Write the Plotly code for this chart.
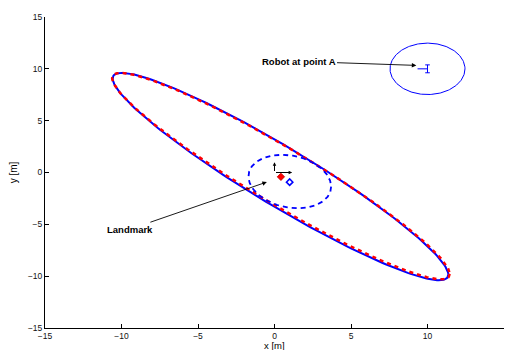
import numpy as np
import plotly.graph_objects as go

# ---- data ----
# ellipse parameters: centre x, centre y, half-extent x, half-extent y, phase (deg)
est_ellipse = [0.39, -0.39, 10.97, 10.0, 161.0]      # blue solid
true_ellipse = [0.42, -0.35, 11.03, 9.95, 161.5]     # red dashed
landmark_ellipse = [1.0, -0.87, 2.7, 2.58, 101.0]    # blue dashed
robot_ellipse = [10.0, 10.0, 2.45, 2.48, 90.0]       # blue thin

true_landmark = [0.42, -0.42]
est_landmark = [0.99, -0.93]

robot_x = [9.35, 10.0, None, 10.0, 10.0, None, 9.85, 10.15, None, 9.85, 10.15]
robot_y = [10.0, 10.0, None, 9.62, 10.38, None, 10.38, 10.38, None, 9.62, 9.62]

frame_origin = [0.0, 0.0]
frame_x_tip = [1.15, 0.0]
frame_y_tip = [0.0, 1.0]

tick_vals = [-15, -10, -5, 0, 5, 10, 15]

robot_label = "Robot at point A"
robot_label_pos = [1.57, 10.72]
robot_arrow_tip = [9.27, 10.33]
landmark_label = "Landmark"
landmark_label_pos = [-9.44, -5.47]
landmark_arrow_tip = [-0.5, -0.92]

x_title = "x [m]"
y_title = "y [m]"

BLUE = "#0000ff"
RED = "#ff0000"
FONT = "Liberation Sans, Arial, Helvetica, sans-serif"

W, H = 508, 350
M = dict(l=45, r=4, t=17, b=22)


def ellipse(p, n=240):
    cx, cy, a, b, ph = p
    t = np.linspace(0, 2 * np.pi, n)
    return cx + a * np.cos(t), cy + b * np.cos(t + np.radians(ph))


fig = go.Figure()

x, y = ellipse(est_ellipse)
fig.add_trace(go.Scatter(x=x, y=y, mode="lines", line=dict(color=BLUE, width=2), hoverinfo="skip"))
x, y = ellipse(true_ellipse)
fig.add_trace(go.Scatter(x=x, y=y, mode="lines", line=dict(color=RED, width=2.5, dash="4px,4px"), hoverinfo="skip"))
x, y = ellipse(landmark_ellipse)
fig.add_trace(go.Scatter(x=x, y=y, mode="lines", line=dict(color=BLUE, width=1.8, dash="5px,4px"), hoverinfo="skip"))
x, y = ellipse(robot_ellipse)
fig.add_trace(go.Scatter(x=x, y=y, mode="lines", line=dict(color=BLUE, width=1), hoverinfo="skip"))

fig.add_trace(go.Scatter(x=robot_x, y=robot_y, mode="lines", line=dict(color=BLUE, width=1)))

fig.add_trace(go.Scatter(x=[true_landmark[0]], y=[true_landmark[1]], mode="markers",
                         marker=dict(symbol="diamond", color=RED, size=5.5, line=dict(color="#cc0000", width=1))))
fig.add_trace(go.Scatter(x=[est_landmark[0]], y=[est_landmark[1]], mode="markers",
                         marker=dict(symbol="diamond-open", color=BLUE, size=5, line=dict(color=BLUE, width=1.5))))

annos = []
for tip in (frame_x_tip, frame_y_tip):
    annos.append(dict(x=tip[0], y=tip[1], ax=frame_origin[0], ay=frame_origin[1],
                      xref="x", yref="y", axref="x", ayref="y", text="",
                      showarrow=True, arrowhead=2, arrowsize=0.7, arrowwidth=1, arrowcolor="black"))
annos.append(dict(x=robot_arrow_tip[0], y=robot_arrow_tip[1], ax=robot_label_pos[0], ay=robot_label_pos[1],
                  xref="x", yref="y", axref="x", ayref="y", text="<b>" + robot_label + "</b>",
                  font=dict(family=FONT, size=9.5, color="black"),
                  showarrow=True, arrowhead=2, arrowsize=1, arrowwidth=0.9, arrowcolor="black"))
annos.append(dict(x=landmark_arrow_tip[0], y=landmark_arrow_tip[1], ax=landmark_label_pos[0], ay=landmark_label_pos[1],
                  xref="x", yref="y", axref="x", ayref="y", text="<b>" + landmark_label + "</b>",
                  font=dict(family=FONT, size=9.5, color="black"),
                  showarrow=True, arrowhead=2, arrowsize=1, arrowwidth=0.9, arrowcolor="black"))
# x-axis title placed at the very bottom edge, as in the reference
plot_h = H - M["t"] - M["b"]
annos.append(dict(x=0.5, y=-M["b"] / plot_h, xref="paper", yref="paper", xanchor="center", yanchor="bottom",
                  text=x_title, showarrow=False, font=dict(family=FONT, size=9.5, color="black"),
                  yshift=-2, borderpad=0))

axis_common = dict(range=[-15, 15], tickvals=tick_vals, ticks="inside", ticklen=4, tickwidth=1,
                   tickcolor="black", showline=True, linecolor="black", linewidth=1, mirror=False,
                   showgrid=False, zeroline=False, tickfont=dict(family=FONT, size=8.5, color="#111"),
                   automargin=False)

fig.update_layout(
    width=W, height=H,
    margin=M,
    paper_bgcolor="white", plot_bgcolor="white",
    showlegend=False,
    annotations=annos,
    xaxis=dict(axis_common),
    yaxis=dict(axis_common, title=dict(text=y_title, font=dict(family=FONT, size=10, color="black"), standoff=8)),
)

fig.write_html("out.html")
